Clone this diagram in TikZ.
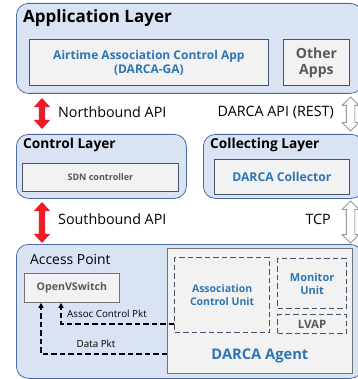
\documentclass[tikz,border=0pt]{standalone}
\usepackage{fontspec}
\setmainfont{Open Sans}
\usetikzlibrary{calc}
\usetikzlibrary{arrows.meta}
\usetikzlibrary{shapes.arrows}
\definecolor{layerfill}{RGB}{218,227,243}
\definecolor{layerline}{RGB}{76,106,163}
\definecolor{boxfill}{RGB}{242,242,242}
\definecolor{boxline}{RGB}{68,84,106}
\definecolor{darcablue}{RGB}{46,117,182}
\definecolor{txtgray}{RGB}{89,89,89}
\definecolor{apired}{RGB}{237,28,36}
\newcommand{\fsz}[1]{\fontsize{#1}{#1}\selectfont}

\begin{document}
\begin{tikzpicture}[x=1pt,y=-1pt,inner sep=0pt,
  layer/.style={draw=layerline,fill=layerfill,line width=0.8pt,rounded corners=12pt,anchor=north west},
  inbox/.style={draw=boxline,fill=boxfill,line width=0.8pt,anchor=north west,align=center},
  unitbox/.style={draw=boxline,line width=1.3pt,dash pattern=on 5.5pt off 3pt,anchor=north west,align=center},
  title/.style={anchor=west,font=\bfseries\fsz{13.7}},
  lbl/.style={font=\fsz{14.3}},
  redarr/.style={double arrow,fill=apired,rotate=90,inner xsep=0pt,inner ysep=3pt,
    double arrow head extend=5pt,double arrow tip angle=84},
  hollowarr/.style={double arrow,draw=black!60,fill=white,line width=0.6pt,rotate=90,inner xsep=0pt,
    inner ysep=4pt,double arrow head extend=4pt,double arrow tip angle=90},
  pkt/.style={line width=1.2pt,dash pattern=on 5.5pt off 3pt,-{Triangle[length=5pt,width=5pt]}}]
\useasboundingbox (0,0) rectangle (357,379);

\node[layer,minimum width=346pt,minimum height=90pt] (app) at (16,3) {};
\node[title,font=\bfseries\fsz{17}] at ($(app.north west) + (7,15)$) {Application Layer};
\node[inbox,minimum width=239pt,minimum height=46pt,text=darcablue,font=\bfseries\fsz{12}] (ga) at (29,39)
  {Airtime Association Control App\\[2pt](DARCA-GA)};
\node[inbox,minimum width=66pt,minimum height=46pt,text=txtgray,font=\bfseries\fsz{14}] (other) at (283,39)
  {Other\\[2pt]Apps};

\node[layer,minimum width=170pt,minimum height=64pt] (ctl) at (16,134) {};
\node[title] at ($(ctl.north west) + (7,11)$) {Control Layer};
\node[inbox,minimum width=156pt,minimum height=28pt,text=txtgray,font=\bfseries\fsz{9}] (sdn) at (22,163) {SDN controller};

\node[layer,minimum width=160pt,minimum height=64pt] (col) at (203,134) {};
\node[title] at ($(col.north west) + (7,11)$) {Collecting Layer};
\node[inbox,minimum width=135pt,minimum height=35pt,text=darcablue,font=\bfseries\fsz{12.2}] (coll) at (214,159) {DARCA Collector};

\node[layer,minimum width=346pt,minimum height=134pt] (ap) at (16,244) {};
\node[anchor=west,font=\fsz{13.9}] at ($(ap.north west) + (14,15)$) {Access Point};
\node[inbox,draw=black!55,minimum width=95pt,minimum height=29pt,text=txtgray,font=\bfseries\fsz{10.6}] (ovs) at (24,273) {OpenVSwitch};
\node[inbox,draw=black!55,minimum width=185pt,minimum height=125pt] (agent) at (167,248) {};
\node[text=darcablue,font=\bfseries\fsz{14.7}] at ($(agent.south) + (0,-18)$) {DARCA Agent};
\node[unitbox,minimum width=95pt,minimum height=75pt,text=darcablue,font=\bfseries\fsz{10.5}] (acu) at (174,257)
  {Association\\[2pt]Control Unit};
\node[unitbox,minimum width=69pt,minimum height=50pt,text=darcablue,font=\bfseries\fsz{11}] (mon) at (277,258)
  {Monitor\\[2pt]Unit};
\node[unitbox,minimum width=69pt,minimum height=19pt,text=txtgray,font=\bfseries\fsz{11.5}] (lvap) at (277,314) {LVAP};

\node[redarr,minimum height=31pt] (nb) at (42,113.5) {};
\node[redarr,minimum height=41pt] (sb) at (42,222.5) {};
\node[hollowarr,minimum height=34pt] (rest) at (350.5,114) {};
\node[hollowarr,minimum height=42pt] (tcp) at (350.5,222) {};
\node[lbl,anchor=west] at (58,112) {Northbound API};
\node[lbl,anchor=east] at (334,112) {DARCA API (REST)};
\node[lbl,anchor=west] at (58,219) {Southbound API};
\node[lbl,anchor=east] at (331,219) {TCP};

\coordinate (c1) at (61,324);
\coordinate (c2) at (41,354);
\draw[pkt] (acu.west |- c1) -| (ovs.south -| c1);
\draw[pkt] (agent.west |- c2) -| (ovs.south -| c2);
\node[anchor=west,font=\fsz{9.8}] at ($(c1) + (6,-10)$) {Assoc Control Pkt};
\node[font=\fsz{9.8}] at ($(c2) + (55,-10)$) {Data Pkt};
\end{tikzpicture}
\end{document}
